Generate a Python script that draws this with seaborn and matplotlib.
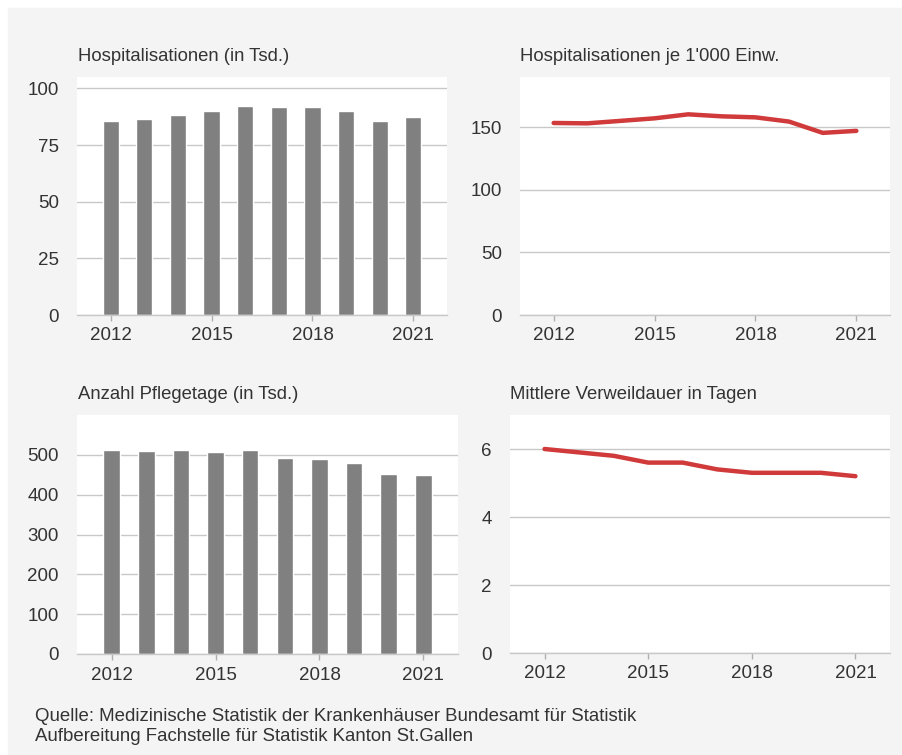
import numpy as np
import pandas as pd
import seaborn as sns
import matplotlib.pyplot as plt
from matplotlib.patches import Rectangle

# Daten
jahre = [2012, 2013, 2014, 2015, 2016, 2017, 2018, 2019, 2020, 2021]
hospitalisationen = [85.6, 86.3, 88.2, 90.0, 92.2, 91.6, 91.6, 90.0, 85.6, 87.2]
hosp_je_1000 = [153.3, 153.0, 155.0, 157.0, 160.2, 158.6, 157.8, 154.4, 145.4, 147.0]
pflegetage = [511.7, 509.0, 511.7, 505.9, 512.5, 490.8, 488.3, 479.0, 450.7, 449.8]
verweildauer = [6.0, 5.9, 5.8, 5.6, 5.6, 5.4, 5.3, 5.3, 5.3, 5.2]
tick_jahre = [2012, 2015, 2018, 2021]

titel = ['Hospitalisationen (in Tsd.)', "Hospitalisationen je 1'000 Einw.",
         'Anzahl Pflegetage (in Tsd.)', 'Mittlere Verweildauer in Tagen']
quelle = ['Quelle: Medizinische Statistik der Krankenhäuser Bundesamt für Statistik',
          'Aufbereitung Fachstelle für Statistik Kanton St.Gallen']

sns.set_theme(style='whitegrid')
plt.rcParams['font.family'] = ['Liberation Sans', 'DejaVu Sans']
plt.rcParams['text.color'] = '#333333'

W, H = 903, 755
grau = '#f4f4f4'
fig = plt.figure(figsize=(W / 100, H / 100), dpi=100, facecolor='white')
fig.patches.append(Rectangle((8 / W, 0), 1 - 8 / W, (H - 8) / H,
                             transform=fig.transFigure, color=grau, zorder=-1))


def box(l, t, r, b):
    return [l / W, 1 - b / H, (r - l) / W, (b - t) / H]


ax1 = fig.add_axes(box(77, 77, 447, 315))
ax2 = fig.add_axes(box(520, 77, 890, 315))
ax3 = fig.add_axes(box(77, 415, 458, 654))
ax4 = fig.add_axes(box(510, 415, 890, 653))

balken = '#808080'
rot = '#d03a3a'

sns.barplot(x=jahre, y=hospitalisationen, color=balken, saturation=1, width=0.48, ax=ax1)
sns.barplot(x=jahre, y=pflegetage, color=balken, saturation=1, width=0.48, ax=ax3)
sns.lineplot(x=jahre, y=hosp_je_1000, color=rot, linewidth=3.2, ax=ax2)
sns.lineplot(x=jahre, y=verweildauer, color=rot, linewidth=3.2, ax=ax4)

for ax in (ax1, ax3):
    ax.set_xlim(-1, 10)
    ax.set_xticks([jahre.index(j) for j in tick_jahre])
    ax.set_xticklabels([str(j) for j in tick_jahre])
for ax in (ax2, ax4):
    ax.set_xlim(2011, 2022)
    ax.set_xticks(tick_jahre)
    ax.set_xticklabels([str(j) for j in tick_jahre])

ax1.set_ylim(0, 105)
ax1.set_yticks([0, 25, 50, 75, 100])
ax2.set_ylim(0, 190)
ax2.set_yticks([0, 50, 100, 150])
ax3.set_ylim(0, 600)
ax3.set_yticks([0, 100, 200, 300, 400, 500])
ax4.set_ylim(0, 7)
ax4.set_yticks([0, 2, 4, 6])

for ax in (ax1, ax2, ax3, ax4):
    ax.set_facecolor('white')
    ax.grid(axis='x', visible=False)
    ax.grid(axis='y', color='#c8c8c8', linewidth=1)
    for s in ('left', 'right', 'top'):
        ax.spines[s].set_visible(False)
    ax.spines['bottom'].set_color('#c8c8c8')
    ax.spines['bottom'].set_linewidth(1)
    ax.tick_params(axis='x', bottom=True, length=4, width=1, color='#b0b0b0',
                   pad=5, labelsize=13.5, labelcolor='#333333')
    ax.tick_params(axis='y', left=False, pad=7, labelsize=13.5, labelcolor='#333333')
    ax.set_xlabel('')
    ax.set_ylabel('')

# Titel
fig.text(78 / W, 1 - 61 / H, titel[0], fontsize=13.3, va='baseline')
fig.text(520 / W, 1 - 61 / H, titel[1], fontsize=13.3, va='baseline')
fig.text(78 / W, 1 - 399 / H, titel[2], fontsize=13.3, va='baseline')
fig.text(510 / W, 1 - 399 / H, titel[3], fontsize=13.3, va='baseline')

# Quelle
fig.text(35 / W, 1 - 721 / H, quelle[0], fontsize=13.4, va='baseline')
fig.text(35 / W, 1 - 741 / H, quelle[1], fontsize=13.4, va='baseline')

fig.savefig('out.png', dpi=100, facecolor=fig.get_facecolor())
